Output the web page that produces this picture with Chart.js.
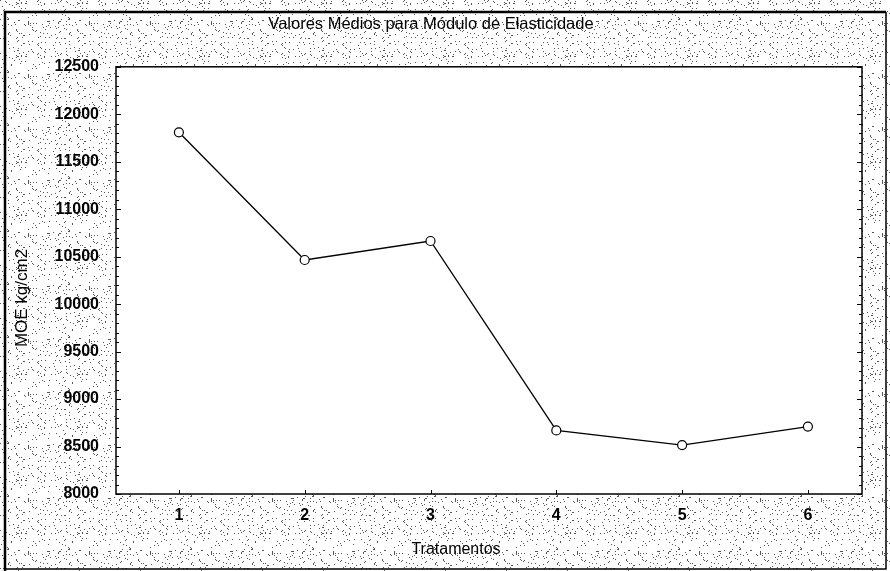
<!DOCTYPE html>
<html>
<head>
<meta charset="utf-8">
<script src="https://cdn.jsdelivr.net/npm/chart.js@4/dist/chart.umd.min.js"></script>
<style>
html,body{margin:0;padding:0;background:#fff;}
#wrap{width:890px;height:571px;position:relative;}
</style>
</head>
<body>
<div id="wrap"><canvas id="c" width="890" height="571"></canvas></div>
<script>
const categories = [1, 2, 3, 4, 5, 6];
const moeValues = [11810, 10465, 10665, 8670, 8515, 8710];
const yTicks = [8000, 8500, 9000, 9500, 10000, 10500, 11000, 11500, 12000, 12500];
const chartTitle = 'Valores Médios para Módulo de Elasticidade';
const xTitle = 'Tratamentos';
const yTitle = 'MOE kg/cm2';

const FONT = "'Liberation Sans Narrow', 'Arial Narrow', 'Liberation Sans', Arial, sans-serif";

// deterministic stipple pattern for the background
function makePattern(ctx) {
  const t = document.createElement('canvas');
  t.width = 61; t.height = 53;
  const g = t.getContext('2d');
  g.fillStyle = '#ffffff'; g.fillRect(0, 0, 61, 53);
  g.fillStyle = '#555555';
  for (let y = 0; y < 53; y++) {
    for (let x = 0; x < 61; x++) {
      const h = ((x * 73856093) ^ (y * 19349663) ^ (x * y * 83492791)) >>> 0;
      if (h % 19 === 0) g.fillRect(x, y, 1, 1);
    }
  }
  return ctx.createPattern(t, 'repeat');
}

const bgPlugin = {
  id: 'bg',
  beforeDraw(chart) {
    const ctx = chart.ctx, a = chart.chartArea;
    ctx.save();
    ctx.fillStyle = makePattern(ctx);
    ctx.fillRect(0, 0, chart.width, chart.height);
    ctx.fillStyle = '#ffffff';
    ctx.fillRect(a.left, a.top, a.right - a.left, a.bottom - a.top);
    ctx.restore();
  },
  afterDraw(chart) {
    const ctx = chart.ctx, a = chart.chartArea;
    const ys = chart.scales.y, xs = chart.scales.x;
    ctx.save();
    ctx.strokeStyle = '#000';
    ctx.lineWidth = 1.5;
    ctx.strokeRect(a.left, a.top, a.right - a.left, a.bottom - a.top);
    ctx.lineWidth = 1;
    for (let v = 8000; v <= 12500; v += 100) {
      const p = Math.round(ys.getPixelForValue(v)) + 0.5;
      const len = (v % 500 === 0) ? 5 : 3;
      ctx.beginPath();
      ctx.moveTo(a.left, p); ctx.lineTo(a.left + len, p);
      ctx.moveTo(a.right, p); ctx.lineTo(a.right - len, p);
      ctx.stroke();
    }
    categories.forEach(c => {
      const p = Math.round(xs.getPixelForValue(c)) + 0.5;
      ctx.beginPath();
      ctx.moveTo(p, a.bottom); ctx.lineTo(p, a.bottom - 4);
      ctx.stroke();
    });
    // outer frame
    ctx.lineWidth = 2.5;
    ctx.beginPath();
    ctx.moveTo(5, 571); ctx.lineTo(5, 12); ctx.lineTo(886, 12);
    ctx.stroke();
    ctx.lineWidth = 1.5;
    ctx.beginPath();
    ctx.moveTo(886, 12); ctx.lineTo(886, 569); ctx.lineTo(5, 569);
    ctx.stroke();

    // axis titles
    ctx.fillStyle = '#000';
    ctx.textAlign = 'center';
    ctx.textBaseline = 'middle';
    ctx.font = '16px ' + FONT;
    ctx.fillText(xTitle, 456, 550);
    ctx.translate(22, 298);
    ctx.rotate(-Math.PI / 2);
    ctx.font = '17px ' + FONT;
    ctx.fillText(yTitle, 0, 0);
    ctx.restore();
  }
};

new Chart(document.getElementById('c'), {
  type: 'line',
  data: {
    datasets: [{
      data: categories.map((c, i) => ({x: c, y: moeValues[i]})),
      borderColor: '#000',
      borderWidth: 1.3,
      backgroundColor: '#fff',
      pointBackgroundColor: '#fff',
      pointBorderColor: '#000',
      pointBorderWidth: 1.2,
      pointRadius: 4.5,
      tension: 0
    }]
  },
  options: {
    responsive: false,
    animation: false,
    layout: {padding: {left: 0, right: 28, top: 0, bottom: 0}},
    plugins: {
      legend: {display: false},
      tooltip: {enabled: false},
      title: {
        display: true,
        text: chartTitle,
        color: '#000',
        font: {family: FONT, size: 16.5, weight: 'normal'},
        padding: {top: 15, bottom: 32}
      }
    },
    scales: {
      x: {
        type: 'linear',
        min: 0.5,
        max: 6.43,
        afterBuildTicks(s) { s.ticks = categories.map(v => ({value: v})); },
        afterFit(s) { s.height = 77; },
        grid: {display: false, drawTicks: false},
        border: {display: false},
        ticks: {
          color: '#000', padding: 12,
          font: {family: FONT, size: 16, weight: 'bold'},
          callback: v => String(v)
        },
        title: {display: false}
      },
      y: {
        min: 8000,
        max: 12500,
        afterBuildTicks(s) { s.ticks = yTicks.map(v => ({value: v})); },
        afterFit(s) { s.width = 116; },
        grid: {display: false, drawTicks: false},
        border: {display: false},
        ticks: {
          color: '#000', padding: 17,
          font: {family: FONT, size: 16, weight: 'bold'},
          callback: v => String(v)
        },
        title: {display: false}
      }
    }
  },
  plugins: [bgPlugin]
});
</script>
</body>
</html>
